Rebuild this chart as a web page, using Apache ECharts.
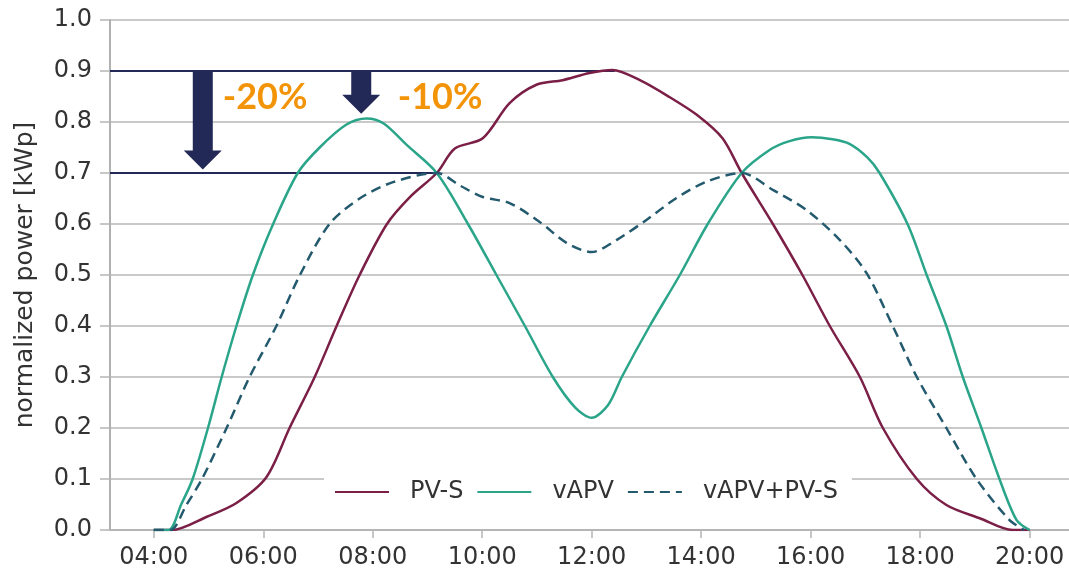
<!DOCTYPE html>
<html>
<head>
<meta charset="utf-8">
<script src="https://cdn.jsdelivr.net/npm/echarts@6/dist/echarts.min.js"></script>
<style>
  html, body { margin: 0; padding: 0; background: #fff; }
  #chart { width: 1069px; height: 576px; }
</style>
</head>
<body>
<div id="chart"></div>
<script>
// ---- data (hours of day, normalized power) ----
const seriesNames = ['PV-S', 'vAPV', 'vAPV+PV-S'];
const xTicks = [4, 6, 8, 10, 12, 14, 16, 18, 20];

const pvS = [[4.0,0],[4.33,0.0],[4.97,0.026],[5.51,0.053],[6.06,0.104],[6.48,0.2],[6.94,0.3],[7.34,0.4],[7.76,0.5],[8.26,0.6],[8.7,0.655],[9.17,0.7],[9.5,0.748],[10.01,0.768],[10.5,0.837],[10.99,0.873],[11.47,0.882],[11.96,0.896],[12.38,0.902],[12.88,0.882],[13.42,0.849],[13.92,0.814],[14.39,0.768],[14.74,0.7],[15.31,0.6],[15.85,0.5],[16.35,0.4],[16.9,0.3],[17.32,0.2],[17.94,0.1],[18.48,0.049],[19.09,0.023],[19.69,0.0],[20.0,0.0]];

const vAPV = [[4.0,0],[4.27,0.0],[4.5,0.05],[4.71,0.1],[4.99,0.2],[5.24,0.3],[5.51,0.4],[5.81,0.5],[6.18,0.6],[6.63,0.7],[7.03,0.75],[7.52,0.795],[7.89,0.807],[8.2,0.797],[8.62,0.755],[9.17,0.7],[9.74,0.6],[10.26,0.5],[10.78,0.4],[11.29,0.3],[11.7,0.24],[12.0,0.22],[12.3,0.245],[12.55,0.3],[13.06,0.4],[13.61,0.5],[14.12,0.6],[14.74,0.7],[15.25,0.745],[15.6,0.762],[16.02,0.77],[16.4,0.766],[16.71,0.757],[17.04,0.73],[17.26,0.7],[17.77,0.6],[18.12,0.5],[18.48,0.4],[18.78,0.3],[19.12,0.2],[19.45,0.1],[19.76,0.02],[20.0,0.0]];

const vAPVpvS = [[4.0,0],[4.3,0.0],[4.6,0.05],[4.88,0.1],[5.33,0.2],[5.75,0.3],[6.24,0.4],[6.67,0.5],[7.21,0.6],[7.76,0.65],[8.37,0.682],[9.17,0.7],[9.6,0.675],[10.01,0.653],[10.5,0.641],[11.05,0.604],[11.54,0.563],[12.0,0.545],[12.46,0.569],[13.0,0.608],[13.55,0.651],[14.1,0.683],[14.74,0.7],[15.31,0.667],[15.93,0.627],[16.53,0.569],[17.02,0.504],[17.5,0.4],[17.94,0.3],[18.48,0.2],[19.03,0.1],[19.63,0.02],[19.9,0.0]];

// annotations (data space)
const refLevels = [0.9, 0.7];
const refEnds = [12.42, 9.2];
const arrowX = [4.895, 7.79];
const arrowFrom = [0.9, 0.9];
const arrowTo = [0.707, 0.816];
const pctLabels = ['-20%', '-10%'];
const pctX = [5.26, 8.457];
const pctY = [0.848, 0.848];

const X_MIN = 3.2, X_MAX = 20.72;
const colors = ['#7b1f47', '#2aa58a', '#235a6e'];
const navy = '#232956';

const chart = echarts.init(document.getElementById('chart'), null, { renderer: 'canvas' });

const refSeries = refLevels.map((lv, i) => ({
  type: 'line', silent: true, symbol: 'none', z: 4,
  data: [[X_MIN, lv], [refEnds[i], lv]],
  lineStyle: { color: navy, width: 2 },
  tooltip: { show: false }
}));

const option = {
  animation: false,
  textStyle: { fontFamily: 'DejaVu Sans' },
  grid: { left: 110, right: 0, top: 20, bottom: 46 },
  legend: {
    data: seriesNames,
    left: 324, top: 472,
    itemWidth: 54, itemHeight: 14, itemGap: 13,
    padding: [8, 14, 8, 10],
    backgroundColor: '#ffffff',
    itemStyle: { opacity: 0 },
    textStyle: { fontSize: 24, color: '#333', fontFamily: 'DejaVu Sans', padding: [0, 0, 0, 16] }
  },
  xAxis: {
    type: 'value', min: X_MIN, max: X_MAX,
    splitLine: { show: false },
    axisLine: { show: true, lineStyle: { color: '#b5b5b5', width: 2 } },
    axisTick: { show: true, customValues: xTicks, length: 8, lineStyle: { color: '#b5b5b5', width: 1.5 } },
    axisLabel: {
      customValues: xTicks, margin: 16, fontSize: 24, color: '#333', fontFamily: 'DejaVu Sans',
      formatter: v => (v < 10 ? '0' : '') + Math.round(v) + ':00'
    }
  },
  yAxis: {
    type: 'value', min: 0, max: 1, interval: 0.1,
    name: 'normalized power [kWp]', nameLocation: 'middle', nameGap: 72,
    nameTextStyle: { fontSize: 25, color: '#333', fontFamily: 'DejaVu Sans' },
    axisLine: { show: true, lineStyle: { color: '#b0b0b0', width: 2 } },
    axisTick: { show: true, length: 10, lineStyle: { color: '#b5b5b5', width: 1.5 } },
    splitLine: { show: true, lineStyle: { color: '#c9c9c9', width: 2 } },
    axisLabel: { margin: 18, fontSize: 24, color: '#333', fontFamily: 'DejaVu Sans', formatter: v => v.toFixed(1) }
  },
  series: [
    ...refSeries,
    { name: seriesNames[0], type: 'line', data: pvS, smooth: 0.3, symbol: 'none', z: 5,
      itemStyle: { color: colors[0] }, lineStyle: { color: colors[0], width: 2.5 } },
    { name: seriesNames[1], type: 'line', data: vAPV, smooth: 0.3, symbol: 'none', z: 5,
      itemStyle: { color: colors[1] }, lineStyle: { color: colors[1], width: 2.5 } },
    { name: seriesNames[2], type: 'line', data: vAPVpvS, smooth: 0.3, symbol: 'none', z: 6,
      itemStyle: { color: colors[2] }, lineStyle: { color: colors[2], width: 2.5, type: [10, 6] } },
    {
      type: 'custom', z: 8, silent: true,
      data: arrowX.map((x, i) => [x, arrowFrom[i], arrowTo[i]]),
      renderItem: (params, api) => {
        const x = api.value(0);
        const top = api.coord([x, api.value(1)]);
        const tip = api.coord([x, api.value(2)]);
        const sw = 10, hw = 19, hl = 19;
        const cx = top[0];
        const hy = tip[1] - hl;
        return {
          type: 'polygon',
          shape: { points: [[cx - sw, top[1]], [cx + sw, top[1]], [cx + sw, hy], [cx + hw, hy], [cx, tip[1]], [cx - hw, hy], [cx - sw, hy]] },
          style: { fill: navy }
        };
      }
    },
    {
      type: 'custom', z: 8, silent: true,
      data: pctX.map((x, i) => [x, pctY[i]]),
      renderItem: (params, api) => {
        const p = api.coord([api.value(0), api.value(1)]);
        return {
          type: 'text',
          style: {
            text: pctLabels[params.dataIndex], x: p[0], y: p[1],
            fill: '#f39408', fontSize: 36, fontWeight: 'bold', fontFamily: 'Lato',
            align: 'left', verticalAlign: 'middle'
          }
        };
      }
    }
  ]
};
chart.setOption(option);
</script>
</body>
</html>
